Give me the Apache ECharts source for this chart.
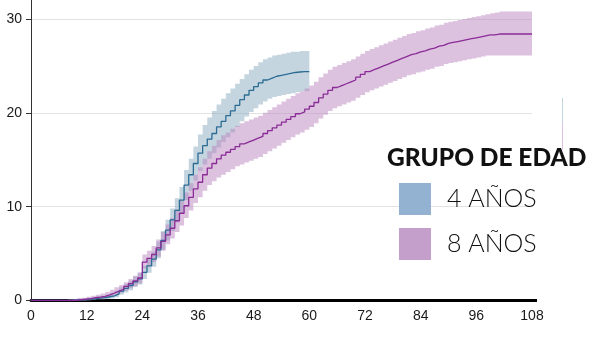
<!DOCTYPE html>
<html>
<head>
<meta charset="utf-8">
<script src="https://cdn.jsdelivr.net/npm/echarts@6/dist/echarts.min.js"></script>
<style>html,body{margin:0;padding:0;background:#fff}#c{width:601px;height:338px}</style>
</head>
<body>
<div id="c"></div>
<script>
// months 0..108
var months = [];
for (var m = 0; m <= 108; m++) months.push(m);
var xTicks = [0, 12, 24, 36, 48, 60, 72, 84, 96, 108];
var yTicks = [0, 10, 20, 30];
var legendTitle = 'GRUPO DE EDAD';
var groupNames = ['4 AÑOS', '8 AÑOS'];

// 4 años: months 0..60
var blueVal = [0,0,0,0,0,0,0,0,0,0.05,0.1,0.1,0.15,0.2,0.25,0.3,0.4,0.5,0.7,1.0,
  1.3,1.6,2.0,2.3,3.0,3.7,4.4,5.4,6.4,7.5,8.6,9.6,10.7,12.3,13.4,14.6,15.7,16.5,17.2,17.8,
  18.5,19.1,19.7,20.2,20.8,21.4,21.9,22.4,22.8,23.2,23.5,23.7,23.9,24.0,24.1,24.2,24.3,24.35,24.4,24.4,24.4];
var blueLow = [0,0,0,0,0,0,0,0,0,0,0,0,0,0.05,0.1,0.1,0.15,0.2,0.35,0.6,
  0.85,1.1,1.45,1.7,2.3,2.95,3.6,4.5,5.4,6.4,7.4,8.3,9.3,10.7,11.7,12.8,13.8,14.5,15.1,15.7,
  16.3,16.9,17.4,17.9,18.5,19.1,19.6,20.1,20.5,20.9,21.2,21.5,21.7,21.8,21.9,22.0,22.1,22.2,22.3,22.3,22.4];
var blueHigh = [0,0,0,0,0,0,0.05,0.05,0.1,0.15,0.2,0.25,0.3,0.35,0.45,0.5,0.65,0.8,1.05,1.4,
  1.75,2.1,2.55,2.9,3.7,4.45,5.2,6.3,7.4,8.6,9.8,10.9,12.1,13.9,15.1,16.4,17.7,18.7,19.5,20.2,
  20.9,21.5,22.1,22.6,23.1,23.6,24.1,24.6,25.0,25.4,25.7,25.9,26.1,26.2,26.3,26.4,26.5,26.5,26.6,26.6,26.6];

// 8 años: months 0..108
var purpleVal = [0,0,0,0,0,0,0,0,0,0.05,0.1,0.15,0.2,0.3,0.35,0.45,0.6,0.8,1.0,1.2,
  1.5,1.8,2.1,2.4,4.1,4.5,4.9,5.6,6.3,7.0,7.7,8.5,9.3,10.1,11.0,11.9,12.6,13.4,14.1,14.6,
  15.1,15.5,15.8,16.1,16.4,16.7,16.9,17.1,17.3,17.5,17.8,18.1,18.4,18.7,19.0,19.3,19.6,19.9,20.1,20.4,
  20.7,21.1,21.6,22.0,22.4,22.7,22.9,23.1,23.3,23.5,23.8,24.1,24.4,24.6,24.8,25.0,25.2,25.4,25.6,25.8,
  26.0,26.2,26.3,26.5,26.6,26.8,26.9,27.1,27.2,27.4,27.5,27.6,27.7,27.8,27.9,28.0,28.1,28.2,28.3,28.3,
  28.4,28.4,28.4,28.4,28.4,28.4,28.4,28.4,28.4];
var purpleLow = [0,0,0,0,0,0,0,0,0,0,0,0,0.05,0.1,0.15,0.2,0.3,0.45,0.6,0.8,
  1.05,1.3,1.55,1.8,3.4,3.7,4.1,4.7,5.3,6.0,6.6,7.3,8.0,8.8,9.6,10.4,11.0,11.7,12.3,12.7,
  13.1,13.4,13.7,14.0,14.3,14.5,14.7,14.9,15.1,15.3,15.6,15.9,16.2,16.5,16.8,17.1,17.4,17.7,17.9,18.2,
  18.5,18.9,19.4,19.8,20.2,20.5,20.7,20.9,21.1,21.3,21.6,21.9,22.2,22.4,22.6,22.8,23.0,23.2,23.4,23.6,
  23.8,24.0,24.1,24.3,24.4,24.6,24.7,24.9,25.0,25.2,25.3,25.4,25.5,25.6,25.7,25.8,25.9,26.0,26.1,26.1,
  26.1,26.1,26.1,26.1,26.1,26.1,26.1,26.1,26.1];
var purpleHigh = [0,0,0,0,0,0,0.05,0.05,0.1,0.15,0.25,0.3,0.4,0.5,0.6,0.75,0.9,1.15,1.4,1.65,
  1.95,2.3,2.65,3.0,4.9,5.3,5.8,6.5,7.3,8.1,8.8,9.7,10.6,11.5,12.5,13.4,14.2,15.1,15.9,16.5,
  17.1,17.6,17.9,18.3,18.6,18.9,19.1,19.3,19.5,19.7,20.0,20.3,20.6,20.9,21.2,21.5,21.8,22.1,22.3,22.6,
  22.9,23.3,23.8,24.2,24.6,24.9,25.1,25.3,25.5,25.7,26.0,26.3,26.6,26.8,27.0,27.2,27.4,27.6,27.8,28.0,
  28.2,28.4,28.5,28.7,28.8,29.0,29.1,29.3,29.4,29.6,29.7,29.8,29.9,30.0,30.1,30.2,30.3,30.4,30.5,30.6,
  30.7,30.8,30.8,30.8,30.8,30.8,30.8,30.8,30.8];

function pairs(vals) { return vals.map(function (v, i) { return [months[i], v]; }); }
function bandData(lo, hi) { return lo.map(function (v, i) { return [months[i], v, hi[i]]; }); }

// step band polygon (value held from t_i until t_{i+1}), built through the axes
function makeBand(lo, hi, fill) {
  var d = bandData(lo, hi);
  return {
    type: 'custom', silent: true, data: d, clip: false,
    encode: { x: 0, y: [1, 2] },
    renderItem: function (params, api) {
      if (params.dataIndex !== 0) return null;
      var top = [], bot = [];
      for (var i = 0; i < d.length; i++) {
        var tEnd = i < d.length - 1 ? d[i + 1][0] : d[i][0];
        top.push(api.coord([d[i][0], d[i][2]]), api.coord([tEnd, d[i][2]]));
        bot.push(api.coord([d[i][0], d[i][1]]), api.coord([tEnd, d[i][1]]));
      }
      var pts = top.concat(bot.reverse());
      return { type: 'polygon', shape: { points: pts }, style: { fill: fill, stroke: null } };
    }
  };
}

var blueLine = '#2b6c94', purpleLine = '#8a2b97';
var blueBand = 'rgba(140,171,193,0.5)', purpleBand = 'rgba(185,133,192,0.5)';

var chart = echarts.init(document.getElementById('c'), null, { renderer: 'canvas' });
var bBand = makeBand(blueLow, blueHigh, blueBand); bBand.z = 1; bBand.name = 'b_band';
var pBand = makeBand(purpleLow, purpleHigh, purpleBand); pBand.z = 2; pBand.name = 'p_band';
chart.setOption({
  animation: false,
  backgroundColor: '#fff',
  grid: { left: 31, right: 69, top: 19, bottom: 37.5, containLabel: false },
  title: {
    text: legendTitle, left: 387, top: 146, padding: 0,
    textStyle: { fontFamily: 'Lato', fontWeight: 900, fontSize: 24.5, color: '#111' }
  },
  legend: {
    orient: 'vertical', left: 399, top: 183, padding: 0, itemWidth: 32, itemHeight: 32, itemGap: 13,
    selectedMode: false,
    data: [
      { name: groupNames[0], icon: 'rect', itemStyle: { color: '#93b2d1', borderWidth: 0 } },
      { name: groupNames[1], icon: 'rect', itemStyle: { color: '#c59fcc', borderWidth: 0 } }
    ],
    textStyle: { fontFamily: 'Lato', fontWeight: 300, fontSize: 25, color: '#111', padding: [0, 0, 0, 11] }
  },
  xAxis: {
    type: 'value', min: 0, max: 108, interval: 12,
    axisLine: { show: true, onZero: false, lineStyle: { color: '#000', width: 3 } },
    axisTick: { show: false },
    splitLine: { show: false },
    axisLabel: { margin: 9, fontFamily: 'Liberation Sans', fontSize: 14, color: '#1a1a1a',
      formatter: function (v) { return xTicks.indexOf(v) >= 0 ? String(v) : ''; } }
  },
  yAxis: {
    type: 'value', min: 0, max: 30, interval: 10,
    axisLine: { show: true, lineStyle: { color: '#333', width: 1 } },
    axisTick: { show: true, inside: false, length: 5, lineStyle: { color: '#333' } },
    splitLine: { show: true, lineStyle: { color: '#e2e2e2', width: 1 } },
    axisLabel: { margin: 9, fontFamily: 'Liberation Sans', fontSize: 14, color: '#1a1a1a',
      formatter: function (v) { return yTicks.indexOf(v) >= 0 ? String(v) : ''; } }
  },
  graphic: [
    { type: 'line', shape: { x1: 31.5, y1: 0, x2: 31.5, y2: 19 }, style: { stroke: '#333', lineWidth: 1 }, silent: true },
    { type: 'line', shape: { x1: 530, y1: 300.5, x2: 537, y2: 300.5 }, style: { stroke: '#000', lineWidth: 3 }, silent: true },
    { type: 'line', shape: { x1: 562.5, y1: 98, x2: 562.5, y2: 123 }, style: { stroke: '#c5d5e0', lineWidth: 1 }, silent: true },
    { type: 'line', shape: { x1: 562.5, y1: 123, x2: 562.5, y2: 150 }, style: { stroke: '#dcc2df', lineWidth: 1 }, silent: true }
  ],
  series: [
    bBand,
    pBand,
    { name: groupNames[0], type: 'line', step: 'end', symbol: 'none', data: pairs(blueVal),
      itemStyle: { color: '#93b2d1' }, lineStyle: { color: blueLine, width: 1.3 }, z: 3 },
    { name: groupNames[1], type: 'line', step: 'end', symbol: 'none', data: pairs(purpleVal),
      itemStyle: { color: '#c59fcc' }, lineStyle: { color: purpleLine, width: 1.3 }, z: 4 }
  ]
});
</script>
</body>
</html>
